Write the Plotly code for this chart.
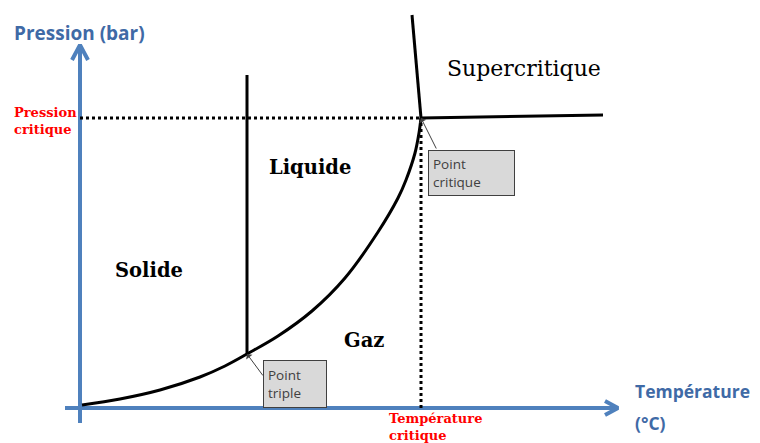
import plotly.graph_objects as go

# Schematic phase diagram, arbitrary units (T = temperature, P = pressure)
curve_T = [2, 40, 80, 120, 145, 167, 198, 232, 265, 298, 318, 326, 335, 339, 341]
curve_P = [3, 9, 18, 31, 42, 54, 72, 97, 130, 176, 210, 228, 255, 275, 290]
triple_point = [167, 54]
critical_point = [341, 290]
fusion_T = [167, 167]
fusion_P = [54, 333]
super_v_T = [341, 332]
super_v_P = [290, 393]
super_h_T = [341, 523]
super_h_P = [290, 293]
axis_T_end = 538
axis_P_end = 363
region_labels = ["Solide", "Liquide", "Gaz"]
region_T = [69, 230, 284]
region_P = [138, 241, 68]

AXIS_BLUE = "#4F81BD"
TEXT_BLUE = "#3F6AA6"
SERIF = "DejaVu Serif"
SANS = "Open Sans"

fig = go.Figure()

def line(xs, ys, color="black", width=3, dash=None):
    fig.add_trace(go.Scatter(x=xs, y=ys, mode="lines", hoverinfo="skip",
                             line=dict(color=color, width=width, dash=dash,
                                       shape="spline" if len(xs) > 3 else "linear")))

# axes with chevron arrowheads
line([0, 0], [-15, axis_P_end], AXIS_BLUE, 4)
line([-15, axis_T_end], [0, 0], AXIS_BLUE, 4)
line([-8, 0, 8], [axis_P_end - 15, axis_P_end, axis_P_end - 15], AXIS_BLUE, 4)
line([axis_T_end - 13, axis_T_end, axis_T_end - 13], [7, 0, -7], AXIS_BLUE, 4)

# dotted critical lines
line([0, critical_point[0]], [critical_point[1], critical_point[1]], "black", 3, "dot")
line([critical_point[0], critical_point[0]], [0, critical_point[1]], "black", 3, "dot")

# phase boundaries
line(curve_T, curve_P, "black", 3)
line(fusion_T, fusion_P, "black", 3)
line(super_v_T, super_v_P, "black", 3)
line(super_h_T, super_h_P, "black", 3)

# region labels
for lab, t, p in zip(region_labels, region_T, region_P):
    fig.add_annotation(x=t, y=p, text=lab, showarrow=False,
                       font=dict(family=SERIF, size=19.5, color="black", weight="bold"))
fig.add_annotation(x=444, y=340, text="Supercritique", showarrow=False,
                   font=dict(family=SERIF, size=22, color="black"))

# red critical labels
fig.add_annotation(x=-68, y=287, text="Pression<br>critique", showarrow=False,
                   xanchor="left", yanchor="middle", align="left",
                   font=dict(family=SERIF, size=13, color="#FF0000", weight="bold"))
fig.add_annotation(x=307, y=-19, text="Température<br>critique", showarrow=False,
                   xanchor="left", yanchor="middle", align="left",
                   font=dict(family=SERIF, size=13, color="#FF0000", weight="bold"))

# axis titles
fig.add_annotation(x=-68, y=375, text="Pression (bar)", showarrow=False,
                   xanchor="left", yanchor="middle",
                   font=dict(family=SANS, size=19, color=TEXT_BLUE, weight="bold"))
fig.add_annotation(x=553, y=17, text="Température", showarrow=False,
                   xanchor="left", yanchor="middle",
                   font=dict(family=SANS, size=17.5, color=TEXT_BLUE, weight="bold"))
fig.add_annotation(x=553, y=-15, text="(°C)", showarrow=False,
                   xanchor="left", yanchor="middle",
                   font=dict(family=SANS, size=17.5, color=TEXT_BLUE, weight="bold"))

# callouts
def callout(text, cx, cy, w, h, tip, tail):
    fig.add_annotation(x=tip[0], y=tip[1], ax=tail[0], ay=tail[1], axref="x", ayref="y",
                       text="", showarrow=True, arrowhead=1, arrowsize=1.3,
                       arrowwidth=1, arrowcolor="#404040")
    fig.add_annotation(x=cx, y=cy, text=text, showarrow=False, align="left",
                       width=w, height=h, borderpad=4, borderwidth=1,
                       bgcolor="#D9D9D9", bordercolor="#404040",
                       font=dict(family=SANS, size=13.5, color="#404040"))

callout("Point<br>critique", 391, 235, 77, 36, critical_point, [357, 258])
callout("Point<br>triple", 215, 24, 54, 38, triple_point, [184, 31])

fig.update_layout(
    width=760, height=443,
    margin=dict(l=0, r=0, t=0, b=0),
    paper_bgcolor="white", plot_bgcolor="white",
    showlegend=False,
    xaxis=dict(range=[-80, 680], visible=False, fixedrange=True),
    yaxis=dict(range=[-35, 408], visible=False, fixedrange=True),
)

fig.write_html("out.html",
               config={"displayModeBar": False, "staticPlot": True},
               post_script="document.body.style.margin='0px';document.body.style.overflow='hidden';")
